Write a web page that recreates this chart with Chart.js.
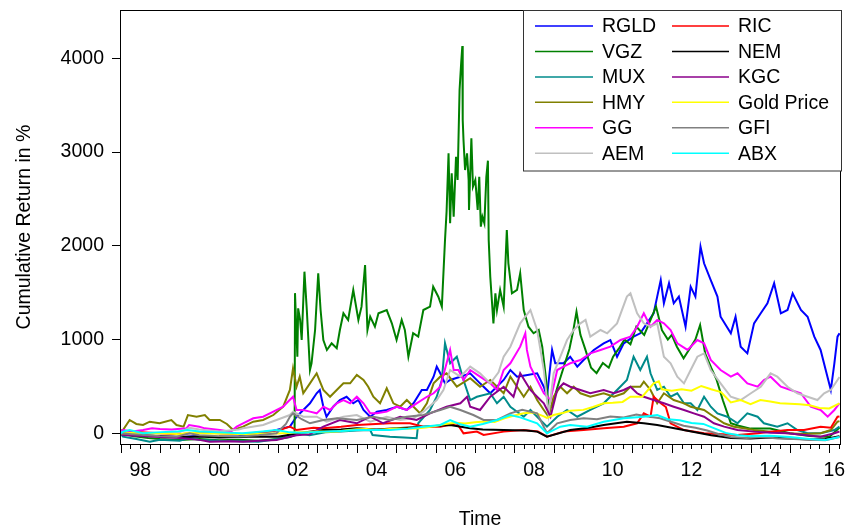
<!DOCTYPE html>
<html>
<head>
<meta charset="utf-8">
<script src="https://cdn.jsdelivr.net/npm/chart.js@4.4.1/dist/chart.umd.min.js"></script>
<style>
  html, body { margin: 0; padding: 0; background: #ffffff; }
  #box { width: 854px; height: 531px; }
</style>
</head>
<body>
<div id="box"><canvas id="chart" width="854" height="531"></canvas></div>
<script>
// Cumulative return (%) of gold miners and the gold price, [decimal year, value]
const RGLD = [[1998.0,0],[1998.5,-20],[1999.0,-30],[1999.5,-40],[2000.0,-30],[2000.5,-40],[2001.0,-30],[2001.5,0],[2001.8,20],[2001.96,35],[2002.13,53],[2002.3,71],[2002.47,177],[2002.64,249],[2002.81,320],[2002.98,427],[2003.06,462],[2003.15,284],[2003.23,177],[2003.4,284],[2003.57,355],[2003.74,390],[2003.91,320],[2004.04,355],[2004.17,249],[2004.34,177],[2004.51,231],[2004.76,249],[2005.02,284],[2005.27,249],[2005.44,320],[2005.65,462],[2005.78,462],[2005.95,604],[2006.03,711],[2006.12,640],[2006.24,533],[2006.37,569],[2006.63,604],[2006.88,640],[2007.13,533],[2007.39,427],[2007.73,569],[2007.9,675],[2008.07,604],[2008.3,620],[2008.58,640],[2008.75,497],[2008.83,390],[2008.96,889],[2009.04,747],[2009.25,747],[2009.42,817],[2009.6,711],[2009.76,782],[2010.02,889],[2010.27,960],[2010.44,995],[2010.61,817],[2010.78,960],[2011.03,1031],[2011.2,1067],[2011.37,1173],[2011.54,1280],[2011.63,1458],[2011.72,1635],[2011.8,1387],[2011.93,1600],[2012.05,1387],[2012.18,1458],[2012.35,1137],[2012.48,1564],[2012.6,1458],[2012.73,1991],[2012.82,1813],[2012.99,1635],[2013.16,1458],[2013.24,1244],[2013.5,1067],[2013.62,1244],[2013.75,924],[2013.92,853],[2014.09,1173],[2014.26,1280],[2014.43,1387],[2014.6,1600],[2014.77,1280],[2014.94,1315],[2015.07,1493],[2015.28,1315],[2015.45,1244],[2015.62,1031],[2015.78,889],[2015.91,675],[2016.04,462],[2016.13,747],[2016.21,1031],[2016.26,1067]];

const VGZ = [[1998.0,0],[1998.3,-30],[1998.7,-50],[1999.0,-60],[1999.5,-70],[2000.0,-60],[2000.5,-75],[2001.0,-70],[2001.5,-80],[2002.0,-60],[2002.3,-40],[2002.42,-20],[2002.43,1495],[2002.49,817],[2002.51,1333],[2002.56,1209],[2002.6,995],[2002.67,1724],[2002.73,1315],[2002.81,675],[2002.85,747],[2002.94,1102],[2003.02,1707],[2003.08,1315],[2003.15,995],[2003.24,889],[2003.36,960],[2003.49,907],[2003.57,1102],[2003.66,1280],[2003.78,1209],[2003.91,1529],[2004.04,1209],[2004.12,1351],[2004.21,1795],[2004.27,1102],[2004.34,1244],[2004.46,1137],[2004.55,1280],[2004.76,1315],[2004.89,1173],[2005.01,995],[2005.14,1209],[2005.22,1102],[2005.31,817],[2005.43,1067],[2005.56,1031],[2005.69,1315],[2005.86,1351],[2005.94,1564],[2006.07,1457],[2006.16,1351],[2006.24,2060],[2006.28,2364],[2006.33,2987],[2006.37,2240],[2006.41,2773],[2006.46,2310],[2006.52,2950],[2006.56,2702],[2006.61,3662],[2006.65,3947],[2006.68,4131],[2006.69,3342],[2006.71,3129],[2006.75,2808],[2006.8,2987],[2006.84,2702],[2006.85,2382],[2006.91,3147],[2006.95,2631],[2007.01,2702],[2007.07,2382],[2007.11,2737],[2007.15,2204],[2007.19,2310],[2007.24,2240],[2007.29,2737],[2007.33,2908],[2007.35,2062],[2007.39,1670],[2007.47,1173],[2007.52,1493],[2007.56,1315],[2007.64,1529],[2007.73,1350],[2007.81,2168],[2007.85,1813],[2007.94,1493],[2008.07,1529],[2008.15,1707],[2008.24,1315],[2008.36,1137],[2008.49,1067],[2008.62,1102],[2008.71,924],[2008.8,600],[2008.87,300],[2008.95,280],[2009.1,500],[2009.25,700],[2009.4,900],[2009.5,1100],[2009.58,1297],[2009.68,1050],[2009.8,900],[2009.95,700],[2010.09,642],[2010.25,750],[2010.4,700],[2010.51,817],[2010.65,900],[2010.8,1000],[2010.95,950],[2011.1,1137],[2011.3,1050],[2011.45,1200],[2011.6,1351],[2011.75,1100],[2011.9,1000],[2012.0,1050],[2012.13,924],[2012.3,800],[2012.45,900],[2012.6,1000],[2012.72,1155],[2012.85,850],[2013.0,700],[2013.14,569],[2013.3,350],[2013.5,107],[2013.7,80],[2014.0,50],[2014.5,50],[2015.0,0],[2015.5,-30],[2016.0,-40],[2016.26,60]];

const MUX = [[1998.0,0],[1998.06,-36],[1998.4,-60],[1998.74,-89],[1999.0,-70],[1999.5,-80],[1999.75,-50],[2000.0,-70],[2000.5,-80],[2001.0,-85],[2001.5,-90],[2002.0,-60],[2002.3,-20],[2002.5,0],[2002.8,-20],[2003.2,10],[2003.6,20],[2004.0,30],[2004.34,35],[2004.4,-18],[2004.84,-36],[2005.2,-45],[2005.52,-53],[2005.56,107],[2005.86,249],[2006.03,390],[2006.16,569],[2006.24,960],[2006.37,747],[2006.54,817],[2006.71,569],[2006.88,355],[2007.05,390],[2007.39,427],[2007.56,320],[2007.73,390],[2007.9,284],[2008.24,177],[2008.41,249],[2008.58,177],[2008.83,71],[2009.09,177],[2009.34,249],[2009.6,177],[2009.93,249],[2010.27,320],[2010.61,462],[2010.86,569],[2011.03,817],[2011.2,675],[2011.37,817],[2011.46,640],[2011.63,462],[2011.8,497],[2011.97,390],[2012.14,427],[2012.31,320],[2012.48,320],[2012.65,249],[2012.82,390],[2012.99,284],[2013.16,213],[2013.41,177],[2013.67,107],[2013.92,213],[2014.18,177],[2014.34,107],[2014.68,71],[2014.94,107],[2015.19,35],[2015.45,0],[2015.78,0],[2016.13,35],[2016.26,71]];

const HMY = [[1998.0,30],[1998.06,35],[1998.23,142],[1998.4,100],[1998.57,89],[1998.74,124],[1998.99,107],[1999.29,142],[1999.42,89],[1999.6,71],[1999.71,195],[1999.93,177],[2000.14,195],[2000.26,142],[2000.52,142],[2000.7,100],[2000.86,35],[2001.11,71],[2001.37,124],[2001.62,142],[2001.88,195],[2002.13,284],[2002.3,462],[2002.38,693],[2002.47,497],[2002.55,604],[2002.64,427],[2002.81,533],[2002.98,640],[2003.15,462],[2003.32,390],[2003.49,462],[2003.66,533],[2003.83,533],[2004.0,622],[2004.17,569],[2004.29,497],[2004.42,390],[2004.59,320],[2004.76,480],[2004.93,320],[2005.1,284],[2005.27,355],[2005.44,284],[2005.61,213],[2005.78,320],[2005.95,533],[2006.12,604],[2006.28,640],[2006.54,497],[2006.88,587],[2007.13,497],[2007.39,569],[2007.73,427],[2007.9,604],[2008.07,497],[2008.24,390],[2008.41,497],[2008.58,355],[2008.75,249],[2008.87,177],[2009.0,390],[2009.17,497],[2009.34,427],[2009.51,497],[2009.68,427],[2009.93,390],[2010.27,427],[2010.53,390],[2010.78,427],[2010.95,497],[2011.2,497],[2011.29,551],[2011.46,462],[2011.63,320],[2011.8,427],[2012.05,355],[2012.31,320],[2012.48,284],[2012.82,249],[2013.07,177],[2013.33,107],[2013.58,71],[2013.83,53],[2014.09,35],[2014.51,18],[2014.94,0],[2015.36,-7],[2015.78,0],[2016.04,35],[2016.21,124],[2016.26,130]];

const GG = [[1998.0,20],[1998.06,35],[1998.3,20],[1998.57,35],[1998.8,53],[1999.0,45],[1999.3,40],[1999.67,53],[1999.74,89],[2000.0,70],[2000.14,53],[2000.52,35],[2000.8,18],[2000.95,71],[2001.11,107],[2001.37,160],[2001.62,177],[2001.88,231],[2002.13,284],[2002.25,337],[2002.38,390],[2002.47,249],[2002.64,249],[2002.81,231],[2002.98,213],[2003.15,284],[2003.32,249],[2003.49,320],[2003.66,355],[2003.83,320],[2004.0,390],[2004.17,320],[2004.34,213],[2004.51,213],[2004.76,231],[2005.02,284],[2005.27,249],[2005.52,320],[2005.78,390],[2005.95,427],[2006.12,497],[2006.28,747],[2006.37,889],[2006.46,675],[2006.58,675],[2006.71,569],[2006.88,675],[2007.13,604],[2007.39,533],[2007.56,462],[2007.73,675],[2007.9,747],[2008.15,924],[2008.28,1067],[2008.32,889],[2008.41,711],[2008.58,569],[2008.75,427],[2008.92,355],[2009.09,675],[2009.25,711],[2009.42,747],[2009.68,782],[2009.93,853],[2010.19,889],[2010.44,924],[2010.7,995],[2010.95,1031],[2011.12,1137],[2011.29,1280],[2011.46,1137],[2011.63,1209],[2011.8,1173],[2011.97,1102],[2012.14,960],[2012.4,889],[2012.65,995],[2012.82,960],[2012.99,782],[2013.24,675],[2013.5,604],[2013.67,640],[2013.92,533],[2014.18,497],[2014.34,569],[2014.51,604],[2014.77,497],[2015.02,462],[2015.28,427],[2015.53,284],[2015.78,249],[2015.96,177],[2016.13,249],[2016.26,320]];

const AEM = [[1998.0,10],[1998.3,0],[1998.6,-10],[1999.0,0],[1999.5,10],[1999.75,60],[2000.0,40],[2000.5,20],[2001.0,40],[2001.11,53],[2001.62,89],[2001.96,142],[2002.3,195],[2002.38,231],[2002.64,177],[2002.98,177],[2003.23,124],[2003.66,177],[2004.0,195],[2004.34,124],[2004.76,177],[2005.1,142],[2005.44,160],[2005.69,231],[2006.03,355],[2006.2,462],[2006.37,675],[2006.63,604],[2006.88,711],[2007.13,640],[2007.39,533],[2007.6,650],[2007.73,817],[2007.9,924],[2008.15,1173],[2008.28,1244],[2008.41,1315],[2008.58,1102],[2008.75,675],[2008.87,200],[2009.0,640],[2009.17,817],[2009.34,995],[2009.51,1102],[2009.68,1173],[2009.81,1209],[2009.93,1031],[2010.19,1102],[2010.36,1067],[2010.61,1173],[2010.86,1458],[2010.95,1493],[2011.12,1280],[2011.29,1173],[2011.46,1137],[2011.63,1173],[2011.8,817],[2011.97,747],[2012.14,604],[2012.31,533],[2012.48,675],[2012.65,817],[2012.82,853],[2012.99,675],[2013.24,533],[2013.5,390],[2013.75,355],[2014.01,427],[2014.26,497],[2014.51,640],[2014.68,604],[2014.94,497],[2015.19,427],[2015.45,390],[2015.7,355],[2015.87,427],[2016.04,462],[2016.21,569],[2016.26,600]];

const RIC = [[1998.0,0],[1998.5,10],[1999.0,0],[1999.5,-10],[2000.0,10],[2000.5,0],[2001.0,-10],[2001.5,10],[2002.0,30],[2002.3,71],[2002.47,35],[2002.9,60],[2003.15,53],[2003.6,70],[2004.0,89],[2004.84,107],[2005.35,107],[2005.69,71],[2006.12,71],[2006.54,107],[2006.71,0],[2007.05,18],[2007.22,-18],[2007.73,18],[2008.24,35],[2008.6,20],[2008.83,-36],[2009.25,18],[2009.76,35],[2010.27,53],[2010.78,71],[2011.12,107],[2011.29,213],[2011.46,177],[2011.54,390],[2011.72,320],[2011.85,280],[2011.97,107],[2012.31,35],[2012.82,0],[2013.3,-10],[2013.67,-18],[2014.2,0],[2014.51,18],[2014.94,35],[2015.36,35],[2015.78,71],[2016.04,60],[2016.21,177],[2016.26,180]];

const NEM = [[1998.0,0],[1998.5,-20],[1999.0,-30],[1999.5,-40],[2000.0,-35],[2000.5,-45],[2001.0,-40],[2001.5,-35],[2002.0,-36],[2002.5,0],[2003.15,35],[2003.6,40],[2004.0,53],[2004.5,40],[2005.0,53],[2005.69,71],[2006.37,89],[2006.88,53],[2007.2,40],[2007.73,35],[2008.3,30],[2008.58,18],[2008.83,-36],[2009.42,35],[2009.9,60],[2010.27,89],[2010.86,124],[2011.29,107],[2011.63,89],[2012.0,60],[2012.5,20],[2013.0,-20],[2013.5,-50],[2014.0,-55],[2014.5,-45],[2015.0,-55],[2015.5,-65],[2015.9,-60],[2016.26,-30]];

const KGC = [[1998.0,0],[1998.06,-18],[1998.5,-30],[1999.0,-40],[1999.5,-50],[2000.0,-70],[2000.26,-89],[2000.8,-85],[2001.11,-89],[2001.5,-80],[2001.96,-71],[2002.3,-36],[2002.47,-20],[2002.8,-10],[2003.15,71],[2003.57,142],[2004.0,107],[2004.34,177],[2004.67,107],[2005.1,177],[2005.52,142],[2005.86,213],[2006.28,284],[2006.63,320],[2006.8,390],[2006.88,284],[2007.13,249],[2007.39,390],[2007.73,497],[2007.98,390],[2008.15,640],[2008.41,462],[2008.58,390],[2008.75,320],[2008.92,177],[2009.09,462],[2009.25,533],[2009.42,497],[2009.68,462],[2009.93,427],[2010.27,462],[2010.53,427],[2010.78,462],[2010.95,497],[2011.12,427],[2011.29,390],[2011.54,355],[2011.8,320],[2012.05,284],[2012.31,249],[2012.56,213],[2012.82,177],[2013.07,107],[2013.33,71],[2013.67,35],[2014.09,18],[2014.51,6],[2014.94,0],[2015.36,-18],[2015.78,-36],[2016.13,0],[2016.26,20]];

const GOLD = [[1998.0,0],[1998.25,3],[1998.5,0],[1998.75,1],[1999.0,0],[1999.25,-2],[1999.5,-10],[1999.75,5],[2000.0,0],[2000.25,-3],[2000.5,-1],[2000.75,-5],[2001.0,-8],[2001.25,-11],[2001.5,-6],[2001.75,-2],[2002.0,-3],[2002.25,4],[2002.5,10],[2002.75,11],[2003.0,19],[2003.25,16],[2003.5,20],[2003.75,33],[2004.0,44],[2004.25,46],[2004.5,36],[2004.75,43],[2005.0,51],[2005.25,48],[2005.5,50],[2005.75,62],[2006.0,77],[2006.25,100],[2006.5,113],[2006.75,106],[2007.0,118],[2007.25,127],[2007.5,121],[2007.75,160],[2008.0,190],[2008.24,213],[2008.5,222],[2008.75,180],[2008.83,165],[2009.0,195],[2009.25,220],[2009.42,240],[2009.75,250],[2010.0,280],[2010.27,320],[2010.5,325],[2010.75,335],[2010.95,390],[2011.25,390],[2011.54,533],[2011.67,555],[2011.75,470],[2012.0,455],[2012.25,470],[2012.5,455],[2012.75,505],[2013.0,470],[2013.25,440],[2013.5,330],[2013.75,355],[2014.0,310],[2014.25,355],[2014.5,340],[2014.75,320],[2015.0,315],[2015.25,310],[2015.5,300],[2015.75,270],[2016.0,265],[2016.26,320]];

const GFI = [[1998.0,0],[1998.3,-10],[1998.7,-20],[1999.0,-30],[1999.42,-36],[1999.75,0],[2000.0,-20],[2000.5,-30],[2001.0,-35],[2001.5,-20],[2001.96,0],[2002.2,100],[2002.3,177],[2002.38,213],[2002.6,150],[2002.81,107],[2003.15,142],[2003.5,160],[2004.0,142],[2004.42,177],[2004.84,142],[2005.27,177],[2005.69,195],[2006.12,249],[2006.37,284],[2006.63,249],[2006.96,195],[2007.22,142],[2007.56,142],[2007.9,213],[2008.2,250],[2008.58,213],[2008.83,0],[2009.09,107],[2009.42,142],[2009.76,160],[2010.1,150],[2010.44,180],[2010.78,170],[2011.1,200],[2011.4,180],[2011.7,160],[2012.0,120],[2012.3,80],[2012.6,60],[2012.9,30],[2013.2,-10],[2013.5,-40],[2013.9,-50],[2014.3,-40],[2014.7,-55],[2015.1,-60],[2015.5,-70],[2015.9,-75],[2016.26,-40]];

const ABX = [[1998.0,0],[1998.06,18],[1998.23,35],[1998.57,0],[1998.9,10],[1999.42,18],[1999.7,35],[2000.0,20],[2000.5,10],[2001.11,0],[2001.6,20],[2001.96,35],[2002.3,10],[2002.6,5],[2003.15,18],[2003.6,25],[2004.0,35],[2004.84,35],[2005.3,50],[2005.69,71],[2006.12,89],[2006.37,142],[2006.6,100],[2006.88,71],[2007.2,100],[2007.56,142],[2007.9,195],[2008.15,170],[2008.58,107],[2008.83,0],[2009.17,71],[2009.42,89],[2009.85,71],[2010.27,124],[2010.78,160],[2011.29,177],[2011.63,195],[2011.9,150],[2012.2,140],[2012.5,110],[2012.8,100],[2013.1,50],[2013.4,0],[2013.7,-20],[2014.0,-30],[2014.5,-25],[2015.0,-40],[2015.5,-60],[2015.9,-70],[2016.26,-40]];

const seriesNames = ['RGLD', 'VGZ', 'MUX', 'HMY', 'GG', 'AEM', 'RIC', 'NEM', 'KGC', 'Gold Price', 'GFI', 'ABX'];
const seriesData = [RGLD, VGZ, MUX, HMY, GG, AEM, RIC, NEM, KGC, GOLD, GFI, ABX];
const seriesColors = ['#0000ff', '#008000', '#008b8b', '#808000', '#ff00ff', '#c0c0c0',
                      '#ff0000', '#000000', '#8b008b', '#ffff00', '#808080', '#00ffff'];

const yTickValues = [0, 1000, 2000, 3000, 4000];
const xLabelPositions = [1998.5, 2000.5, 2002.5, 2004.5, 2006.5, 2008.5, 2010.5, 2012.5, 2014.5, 2016.13];
const xLabelTexts = ['98', '00', '02', '04', '06', '08', '10', '12', '14', '16'];
const firstYear = 1998, lastYear = 2016;

const FONT = '"Liberation Sans", Arial, Helvetica, sans-serif';

const datasets = seriesData.map((rows, i) => ({
  label: seriesNames[i],
  data: rows.map(r => ({ x: r[0], y: r[1] })),
  borderColor: seriesColors[i],
  backgroundColor: seriesColors[i],
  borderWidth: 2,
  pointRadius: 0,
  tension: 0,
  fill: false,
  order: seriesData.length - 1 - i
}));

// Box around the plot, quarterly/yearly ticks on the time axis, and the inset legend
const framePlugin = {
  id: 'frame',
  afterDatasetsDraw(chart) {
    const { ctx, chartArea: a, scales } = chart;
    const xs = scales.x;
    ctx.save();
    ctx.strokeStyle = '#000';
    ctx.lineWidth = 1;
    ctx.strokeRect(a.left + 0.5, a.top + 0.5, a.right - a.left, a.bottom - a.top);
    ctx.beginPath();
    for (let y = firstYear; y <= lastYear; y++) {
      for (let q = 0; q < 4; q++) {
        const t = y + q / 4;
        if (t > xs.max) continue;
        const px = Math.round(xs.getPixelForValue(t)) + 0.5;
        const len = q === 0 ? 9 : 5;
        ctx.moveTo(px, a.bottom);
        ctx.lineTo(px, a.bottom + len);
      }
    }
    ctx.stroke();
    ctx.restore();
  },
  afterDraw(chart) {
    const { ctx } = chart;
    const L = { left: 523.5, top: 10.5, right: 841.5, bottom: 171, row0: 26, rowGap: 25.45,
                cols: [{ x1: 535, x2: 593, tx: 602 }, { x1: 672, x2: 729, tx: 738 }] };
    ctx.save();
    ctx.fillStyle = '#fff';
    ctx.fillRect(L.left, L.top, L.right - L.left, L.bottom - L.top);
    ctx.strokeStyle = '#333';
    ctx.lineWidth = 1;
    ctx.strokeRect(L.left, L.top, L.right - L.left, L.bottom - L.top);
    ctx.font = '19.5px ' + FONT;
    ctx.textBaseline = 'middle';
    ctx.textAlign = 'left';
    chart.data.datasets.forEach((ds, i) => {
      const col = L.cols[Math.floor(i / 6)];
      const y = L.row0 + (i % 6) * L.rowGap;
      ctx.strokeStyle = ds.borderColor;
      ctx.lineWidth = 1.5;
      ctx.beginPath();
      ctx.moveTo(col.x1, y);
      ctx.lineTo(col.x2, y);
      ctx.stroke();
      ctx.fillStyle = '#000';
      ctx.fillText(ds.label, col.tx, y + 1);
    });
    ctx.restore();
  }
};

new Chart(document.getElementById('chart'), {
  type: 'line',
  data: { datasets },
  plugins: [framePlugin],
  options: {
    responsive: false,
    animation: false,
    devicePixelRatio: 1,
    layout: { padding: { left: 0, right: 14, top: 10, bottom: 0 } },
    plugins: { legend: { display: false }, tooltip: { enabled: false } },
    scales: {
      x: {
        type: 'linear',
        min: 1997.985,
        max: 2016.273,
        afterFit(s) { s.height = 87; s.paddingLeft = 0; s.paddingRight = 0; },
        afterBuildTicks(s) { s.ticks = xLabelPositions.map(v => ({ value: v })); },
        grid: { display: false, drawTicks: false },
        border: { display: false },
        ticks: {
          autoSkip: false, maxRotation: 0, padding: 15, color: '#000',
          font: { family: FONT, size: 19.5 },
          callback: (v, i) => xLabelTexts[i]
        },
        title: { display: true, text: 'Time', color: '#000', font: { family: FONT, size: 19.5 }, padding: { top: 0, bottom: 0 } }
      },
      y: {
        min: -114,
        max: 4515,
        afterFit(s) { s.width = 120; s.paddingTop = 0; s.paddingBottom = 0; },
        afterBuildTicks(s) { s.ticks = yTickValues.map(v => ({ value: v })); },
        grid: { drawOnChartArea: false, tickLength: 8, color: '#000', tickColor: '#000' },
        border: { display: false },
        ticks: { padding: 8, color: '#000', font: { family: FONT, size: 19.5 }, callback: v => String(v) },
        title: { display: true, text: 'Cumulative Return in %', color: '#000', font: { family: FONT, size: 19.5 }, padding: { top: 13, bottom: 0 } }
      }
    }
  }
});
</script>
</body>
</html>
